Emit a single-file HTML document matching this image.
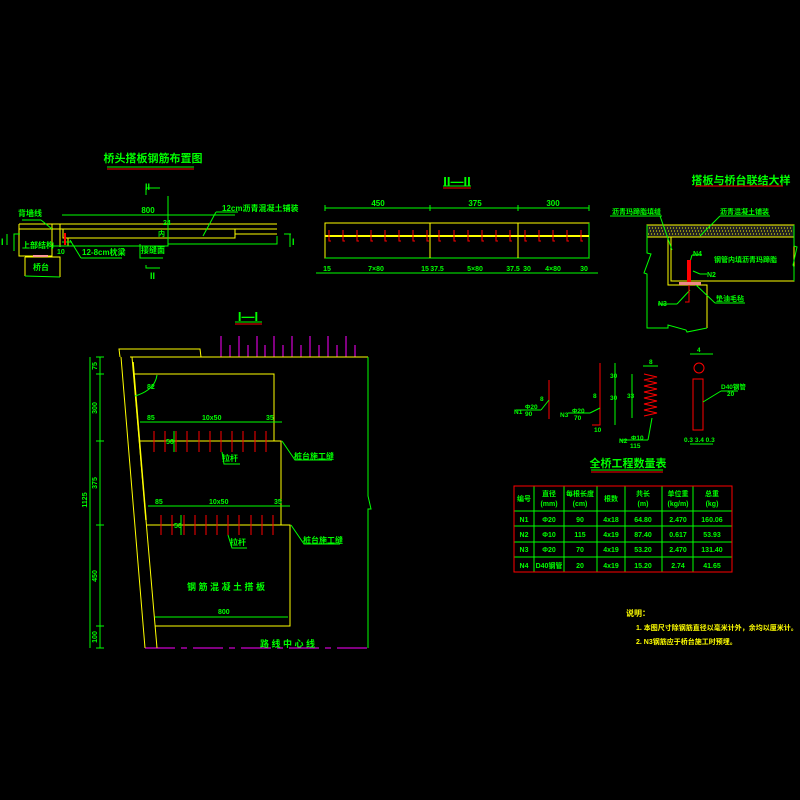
<!DOCTYPE html>
<html><head><meta charset="utf-8"><style>
html,body{margin:0;padding:0;background:#000;}
svg{display:block}
text{font-family:"Liberation Sans","Noto Sans CJK SC",sans-serif;font-weight:bold}
</style></head><body>
<svg width="800" height="800" viewBox="0 0 800 800" xmlns="http://www.w3.org/2000/svg">
<rect width="800" height="800" fill="#000"/>
<g fill="none" stroke-width="1">

<text x="153" y="162" fill="#0f0" font-size="11" text-anchor="middle" stroke="none">桥头搭板钢筋布置图</text>
<line x1="107" y1="167" x2="194" y2="167" stroke="#0f0"/>
<line x1="107" y1="169" x2="194" y2="169" stroke="#f00"/>
<g stroke="#ff0">
<polyline points="19,224 52,224 52,256 19,256 19,224"/>
<line x1="19" y1="229" x2="52" y2="229"/>
<line x1="52" y1="224" x2="277" y2="224"/>
<line x1="52" y1="229" x2="277" y2="229"/>
<line x1="60" y1="224" x2="60" y2="247"/>
<polyline points="63,229 63,238 235,238 235,229"/>
<line x1="68" y1="238" x2="68" y2="246"/>
<polyline points="25,257 60,257 60,277"/>
<line x1="25" y1="257" x2="25" y2="276"/>
<line x1="235" y1="234" x2="277" y2="234"/>
</g>
<g stroke="#0f0">
<polyline points="52,246 168,246 168,244 277,244 277,236"/>
<line x1="25" y1="276" x2="60" y2="277"/>
<line x1="62" y1="215" x2="235" y2="215"/>
<line x1="168" y1="196" x2="168" y2="246"/>
<polyline points="146,195 146,188 160,188"/>
<polyline points="146,265 146,268 160,268"/>
<polyline points="7,234 7,245"/>
<polyline points="14,251 14,234 20,234"/>
<polyline points="290,234 290,247"/>
<polyline points="284,234 291,234"/>
<line x1="216" y1="212" x2="238" y2="212"/>
<line x1="216" y1="212" x2="203" y2="236"/>
<line x1="22" y1="220" x2="41" y2="220"/>
<line x1="41" y1="220" x2="52" y2="229"/>
<line x1="62" y1="242" x2="72" y2="242"/>
<line x1="70" y1="240" x2="81" y2="258"/>
<line x1="81" y1="258" x2="122" y2="258"/>
<polyline points="140,244 140,258 163,258"/>
</g>
<line x1="65" y1="233" x2="65" y2="245" stroke="#f00" stroke-width="2"/>
<line x1="33" y1="256" x2="48" y2="256" stroke="#f99" stroke-width="2"/>
<g fill="#0f0" stroke="none" font-size="8">
<text x="148" y="213" text-anchor="middle">800</text>
<text x="222" y="211">12cm沥青混凝土铺装</text>
<text x="18" y="216">背墙线</text>
<text x="22" y="248">上部结构</text>
<text x="33" y="270">桥台</text>
<text x="82" y="255">12-8cm枕梁</text>
<text x="141" y="253">接缝面</text>
<text x="57" y="254" font-size="7">10</text>
<text x="163" y="225" font-size="7">24</text>
<text x="158" y="236" font-size="7">内</text>
<text x="145" y="190" font-size="9">II</text>
<text x="150" y="279" font-size="9">II</text>
<text x="1" y="245" font-size="9">I</text>
<text x="292" y="245" font-size="9">I</text>
</g>

<text x="457" y="186" fill="#0f0" font-size="13" text-anchor="middle" stroke="none">II—II</text>
<line x1="443" y1="186" x2="471" y2="186" stroke="#0f0"/>
<line x1="443" y1="188" x2="471" y2="188" stroke="#f00"/>
<line x1="325" y1="208" x2="589" y2="208" stroke="#0f0"/>
<g stroke="#0f0"><line x1="325" y1="205" x2="325" y2="211"/><line x1="430" y1="205" x2="430" y2="211"/><line x1="518" y1="205" x2="518" y2="211"/><line x1="589" y1="205" x2="589" y2="211"/></g>
<g fill="#0f0" stroke="none" font-size="8" text-anchor="middle">
<text x="378" y="206">450</text><text x="475" y="206">375</text><text x="553" y="206">300</text>
</g>
<rect x="325" y="223" width="264" height="35" stroke="#ff0"/>
<line x1="589" y1="223" x2="589" y2="258" stroke="#0f0"/>
<line x1="325" y1="258" x2="589" y2="258" stroke="#0f0"/>
<line x1="430" y1="223" x2="430" y2="258" stroke="#ff0"/>
<line x1="518" y1="223" x2="518" y2="258" stroke="#ff0"/>
<line x1="325" y1="236" x2="589" y2="236" stroke="#ff0" stroke-width="2"/>
<g stroke="#f00">
<polyline points="329,230 329,241 331,241"/><polyline points="343,230 343,241 345,241"/><polyline points="357,230 357,241 359,241"/><polyline points="371,230 371,241 373,241"/><polyline points="385,230 385,241 387,241"/><polyline points="399,230 399,241 401,241"/><polyline points="413,230 413,241 415,241"/><polyline points="427,230 427,241 429,241"/><polyline points="439,230 439,241 441,241"/><polyline points="454,230 454,241 456,241"/><polyline points="468,230 468,241 470,241"/><polyline points="482,230 482,241 484,241"/><polyline points="496,230 496,241 498,241"/><polyline points="510,230 510,241 512,241"/><polyline points="525,230 525,241 527,241"/><polyline points="539,230 539,241 541,241"/><polyline points="553,230 553,241 555,241"/><polyline points="567,230 567,241 569,241"/><polyline points="581,230 581,241 583,241"/>
</g>
<line x1="316" y1="273" x2="598" y2="273" stroke="#0f0"/>
<g fill="#0f0" stroke="none" font-size="7" text-anchor="middle">
<text x="327" y="271">15</text><text x="376" y="271">7×80</text><text x="425" y="271">15</text><text x="437" y="271">37.5</text><text x="475" y="271">5×80</text><text x="513" y="271">37.5</text><text x="527" y="271">30</text><text x="553" y="271">4×80</text><text x="584" y="271">30</text>
</g>

<text x="248" y="321" fill="#0f0" font-size="13" text-anchor="middle" stroke="none">I—I</text>
<line x1="235" y1="322" x2="262" y2="322" stroke="#0f0"/>
<line x1="235" y1="324" x2="262" y2="324" stroke="#f00"/>
<g stroke="#f0f">
<line x1="221" y1="336" x2="221" y2="357"/><line x1="230" y1="345" x2="230" y2="357"/><line x1="239" y1="336" x2="239" y2="357"/><line x1="248" y1="345" x2="248" y2="357"/><line x1="257" y1="336" x2="257" y2="357"/><line x1="265" y1="345" x2="265" y2="357"/><line x1="274" y1="336" x2="274" y2="357"/><line x1="283" y1="345" x2="283" y2="357"/><line x1="292" y1="336" x2="292" y2="357"/><line x1="301" y1="345" x2="301" y2="357"/><line x1="310" y1="336" x2="310" y2="357"/><line x1="319" y1="345" x2="319" y2="357"/><line x1="328" y1="336" x2="328" y2="357"/><line x1="337" y1="345" x2="337" y2="357"/><line x1="346" y1="336" x2="346" y2="357"/><line x1="355" y1="345" x2="355" y2="357"/>
<line x1="145" y1="648" x2="368" y2="648" stroke-dasharray="30,6,6,6"/>
</g>
<g stroke="#ff0">
<polyline points="120,357 119,349 200,349 201,357"/>
<line x1="130" y1="357" x2="368" y2="357"/>
<line x1="121" y1="357" x2="145" y2="648"/>
<line x1="132" y1="357" x2="157" y2="648"/>
<line x1="133" y1="362" x2="146" y2="520" stroke-width="1.5"/>
<polyline points="134,374 274,374 274,441"/>
<polyline points="139,441 281,441 281,525"/>
<polyline points="147,525 290,525 290,626 155,626"/>
</g>
<g stroke="#0f0">
<polyline points="368,357 368,496 371,509 368,509 368,648"/>
<line x1="100" y1="357" x2="100" y2="648"/>
<line x1="96" y1="357" x2="104" y2="357"/><line x1="96" y1="374" x2="104" y2="374"/><line x1="96" y1="441" x2="104" y2="441"/><line x1="96" y1="525" x2="104" y2="525"/><line x1="96" y1="626" x2="104" y2="626"/><line x1="96" y1="648" x2="104" y2="648"/>
<line x1="140" y1="422" x2="282" y2="422"/>
<line x1="148" y1="506" x2="290" y2="506"/>
<line x1="155" y1="617" x2="288" y2="617"/>
<path d="M157,375 Q155,390 135,396"/>
<line x1="174" y1="431" x2="174" y2="452"/>
<line x1="181" y1="515" x2="181" y2="535"/>
<polyline points="282,441 295,460 332,460"/>
<polyline points="291,525 304,544 340,544"/>
<polyline points="222,452 224,464 240,464"/>
<polyline points="228,535 232,548 247,548"/>
</g>
<g stroke="#f00">
<line x1="154" y1="431" x2="154" y2="452"/><line x1="165" y1="431" x2="165" y2="452"/><line x1="176" y1="431" x2="176" y2="452"/><line x1="187" y1="431" x2="187" y2="452"/><line x1="199" y1="431" x2="199" y2="452"/><line x1="210" y1="431" x2="210" y2="452"/><line x1="221" y1="431" x2="221" y2="452"/><line x1="232" y1="431" x2="232" y2="452"/><line x1="243" y1="431" x2="243" y2="452"/><line x1="255" y1="431" x2="255" y2="452"/><line x1="266" y1="431" x2="266" y2="452"/>
<line x1="161" y1="515" x2="161" y2="535"/><line x1="172" y1="515" x2="172" y2="535"/><line x1="184" y1="515" x2="184" y2="535"/><line x1="195" y1="515" x2="195" y2="535"/><line x1="206" y1="515" x2="206" y2="535"/><line x1="217" y1="515" x2="217" y2="535"/><line x1="228" y1="515" x2="228" y2="535"/><line x1="239" y1="515" x2="239" y2="535"/><line x1="251" y1="515" x2="251" y2="535"/><line x1="262" y1="515" x2="262" y2="535"/><line x1="273" y1="515" x2="273" y2="535"/>
</g>
<g fill="#0f0" stroke="none" font-size="7">
<text x="147" y="389">82</text>
<text x="147" y="420">85</text><text x="202" y="420">10x50</text><text x="266" y="420">35</text>
<text x="155" y="504">85</text><text x="209" y="504">10x50</text><text x="274" y="504">35</text>
<text x="166" y="444">50</text><text x="174" y="528">50</text>
<text x="218" y="614">800</text>
<text x="222" y="461" font-size="8">拉杆</text><text x="230" y="545" font-size="8">拉杆</text>
<text x="294" y="459" font-size="8">桩台施工缝</text><text x="303" y="543" font-size="8">桩台施工缝</text>
<text x="187" y="590" font-size="9">钢 筋 混 凝 土 搭 板</text>
<text x="260" y="647" font-size="9">路 线 中 心 线</text>
</g>
<g fill="#0f0" stroke="none" font-size="7" text-anchor="middle">
<text transform="translate(97,366) rotate(-90)">75</text>
<text transform="translate(97,408) rotate(-90)">300</text>
<text transform="translate(97,483) rotate(-90)">375</text>
<text transform="translate(97,576) rotate(-90)">450</text>
<text transform="translate(97,637) rotate(-90)">100</text>
<text transform="translate(87,500) rotate(-90)">1125</text>
</g>
<line x1="90" y1="357" x2="90" y2="648" stroke="#0f0"/>

<text x="741" y="184" fill="#0f0" font-size="11" text-anchor="middle" stroke="none">搭板与桥台联结大样</text>
<line x1="695" y1="186" x2="783" y2="186" stroke="#f00"/>
<rect x="647" y="225" width="147" height="12" fill="#222" stroke="#ff0"/>
<g stroke="#ff0" stroke-dasharray="1,2"><line x1="649" y1="228" x2="792" y2="228"/><line x1="650" y1="231" x2="792" y2="231"/><line x1="648" y1="234" x2="792" y2="234"/></g>
<g stroke="#ff0">
<polyline points="668,237 668,285 707,285 707,328"/>
<rect x="671" y="237" width="123" height="44"/>
</g>
<g stroke="#0f0">
<polyline points="647,225 647,253 651,254 644,273 647,274 647,328 668,328 668,325 686,330 687,332 707,328"/>
<polyline points="794,225 794,246 797,247 793,265 794,267 794,281"/>
<line x1="610" y1="216" x2="662" y2="216"/><line x1="660" y1="216" x2="672" y2="250"/>
<line x1="720" y1="216" x2="770" y2="216"/><line x1="720" y1="216" x2="700" y2="236"/>
<line x1="692" y1="255" x2="702" y2="255"/><line x1="692" y1="255" x2="690" y2="262"/>
<line x1="693" y1="271" x2="700" y2="274"/><line x1="700" y1="274" x2="707" y2="274"/>
<line x1="658" y1="304" x2="677" y2="304"/><line x1="677" y1="304" x2="690" y2="290"/>
<line x1="695" y1="284" x2="715" y2="303"/><line x1="715" y1="303" x2="745" y2="303"/>
</g>
<rect x="687" y="260" width="4" height="22" fill="#f00" stroke="none"/>
<rect x="679" y="282" width="22" height="3" fill="#e88" stroke="none"/>
<polyline points="689,285 689,302 685,302" stroke="#f00"/>
<g fill="#0f0" stroke="none" font-size="7">
<text x="612" y="214">沥青玛蹄脂填缝</text>
<text x="720" y="214">沥青混凝土铺装</text>
<text x="714" y="262">钢管内填沥青玛蹄脂</text>
<text x="693" y="256">N4</text><text x="707" y="277">N2</text>
<text x="658" y="306">N3</text><text x="716" y="301">垫油毛毡</text>
</g>

<g stroke="#f00">
<line x1="549" y1="380" x2="549" y2="419"/>
<polyline points="600,363 600,425 592,425"/>
<polyline points="644,374 657,377 644,380 657,383 644,386 657,389 644,392 657,395 644,398 657,401 644,404 657,407 644,410 657,413 644,416"/>
<circle cx="699" cy="368" r="5"/>
<rect x="693" y="379" width="10" height="51"/>
</g>
<g stroke="#0f0">
<line x1="516" y1="410" x2="541" y2="410"/><line x1="541" y1="410" x2="549" y2="400"/>
<line x1="568" y1="413" x2="590" y2="413"/><line x1="590" y1="413" x2="600" y2="408"/>
<line x1="615" y1="363" x2="615" y2="425"/>
<line x1="632" y1="374" x2="632" y2="418"/>
<line x1="643" y1="366" x2="658" y2="366"/>
<line x1="690" y1="354" x2="713" y2="354"/>
<line x1="690" y1="444" x2="713" y2="444"/>
<line x1="620" y1="440" x2="648" y2="440"/><line x1="648" y1="440" x2="652" y2="418"/>
<line x1="721" y1="391" x2="738" y2="391"/><line x1="721" y1="391" x2="703" y2="402"/>
</g>
<g fill="#0f0" stroke="none" font-size="6.5">
<text x="514" y="414">N1</text><text x="525" y="409">Φ20</text><text x="525" y="416">90</text><text x="540" y="401">8</text>
<text x="560" y="417">N3</text><text x="572" y="413">Φ20</text><text x="574" y="420">70</text><text x="593" y="398">8</text><text x="594" y="432">10</text>
<text x="610" y="378">30</text><text x="610" y="400">30</text>
<text x="627" y="398">33</text><text x="649" y="364">8</text>
<text x="619" y="443">N2</text><text x="631" y="440">Φ10</text><text x="630" y="448">115</text>
<text x="697" y="352">4</text>
<text x="721" y="389">D40钢管</text><text x="727" y="396">20</text>
<text x="684" y="442">0.3 3.4 0.3</text>
</g>

<text x="628" y="467" fill="#0f0" font-size="11" text-anchor="middle" stroke="none">全桥工程数量表</text>
<line x1="591" y1="470" x2="663" y2="470" stroke="#0f0"/>
<line x1="591" y1="472" x2="663" y2="472" stroke="#f00"/>
<g stroke="#0f0">
<line x1="514" y1="511" x2="732" y2="511"/><line x1="514" y1="526" x2="732" y2="526"/><line x1="514" y1="542" x2="732" y2="542"/><line x1="514" y1="557" x2="732" y2="557"/>
<line x1="534" y1="486" x2="534" y2="572"/><line x1="564" y1="486" x2="564" y2="572"/><line x1="597" y1="486" x2="597" y2="572"/><line x1="625" y1="486" x2="625" y2="572"/><line x1="662" y1="486" x2="662" y2="572"/><line x1="693" y1="486" x2="693" y2="572"/>
</g>
<rect x="514" y="486" width="218" height="86" stroke="#f00"/>
<g fill="#0f0" stroke="none" font-size="7" text-anchor="middle">
<text x="524" y="501">编号</text>
<text x="549" y="496">直径</text><text x="549" y="506">(mm)</text>
<text x="580" y="496">每根长度</text><text x="580" y="506">(cm)</text>
<text x="611" y="501">根数</text>
<text x="643" y="496">共长</text><text x="643" y="506">(m)</text>
<text x="678" y="496">单位重</text><text x="678" y="506">(kg/m)</text>
<text x="712" y="496">总重</text><text x="712" y="506">(kg)</text>
<text x="524" y="522">N1</text><text x="549" y="522">Φ20</text><text x="580" y="522">90</text><text x="611" y="522">4x18</text><text x="643" y="522">64.80</text><text x="678" y="522">2.470</text><text x="712" y="522">160.06</text>
<text x="524" y="537">N2</text><text x="549" y="537">Φ10</text><text x="580" y="537">115</text><text x="611" y="537">4x19</text><text x="643" y="537">87.40</text><text x="678" y="537">0.617</text><text x="712" y="537">53.93</text>
<text x="524" y="552">N3</text><text x="549" y="552">Φ20</text><text x="580" y="552">70</text><text x="611" y="552">4x19</text><text x="643" y="552">53.20</text><text x="678" y="552">2.470</text><text x="712" y="552">131.40</text>
<text x="524" y="568">N4</text><text x="549" y="568">D40钢管</text><text x="580" y="568">20</text><text x="611" y="568">4x19</text><text x="643" y="568">15.20</text><text x="678" y="568">2.74</text><text x="712" y="568">41.65</text>
</g>

<g fill="#ff0" stroke="none" font-size="7">
<text x="626" y="616" font-size="8">说明：</text>
<text x="636" y="630">1. 本图尺寸除钢筋直径以毫米计外，余均以厘米计。</text>
<text x="636" y="644">2. N3钢筋应于桥台施工时预埋。</text>
</g>
</g>
</svg>
</body></html>
